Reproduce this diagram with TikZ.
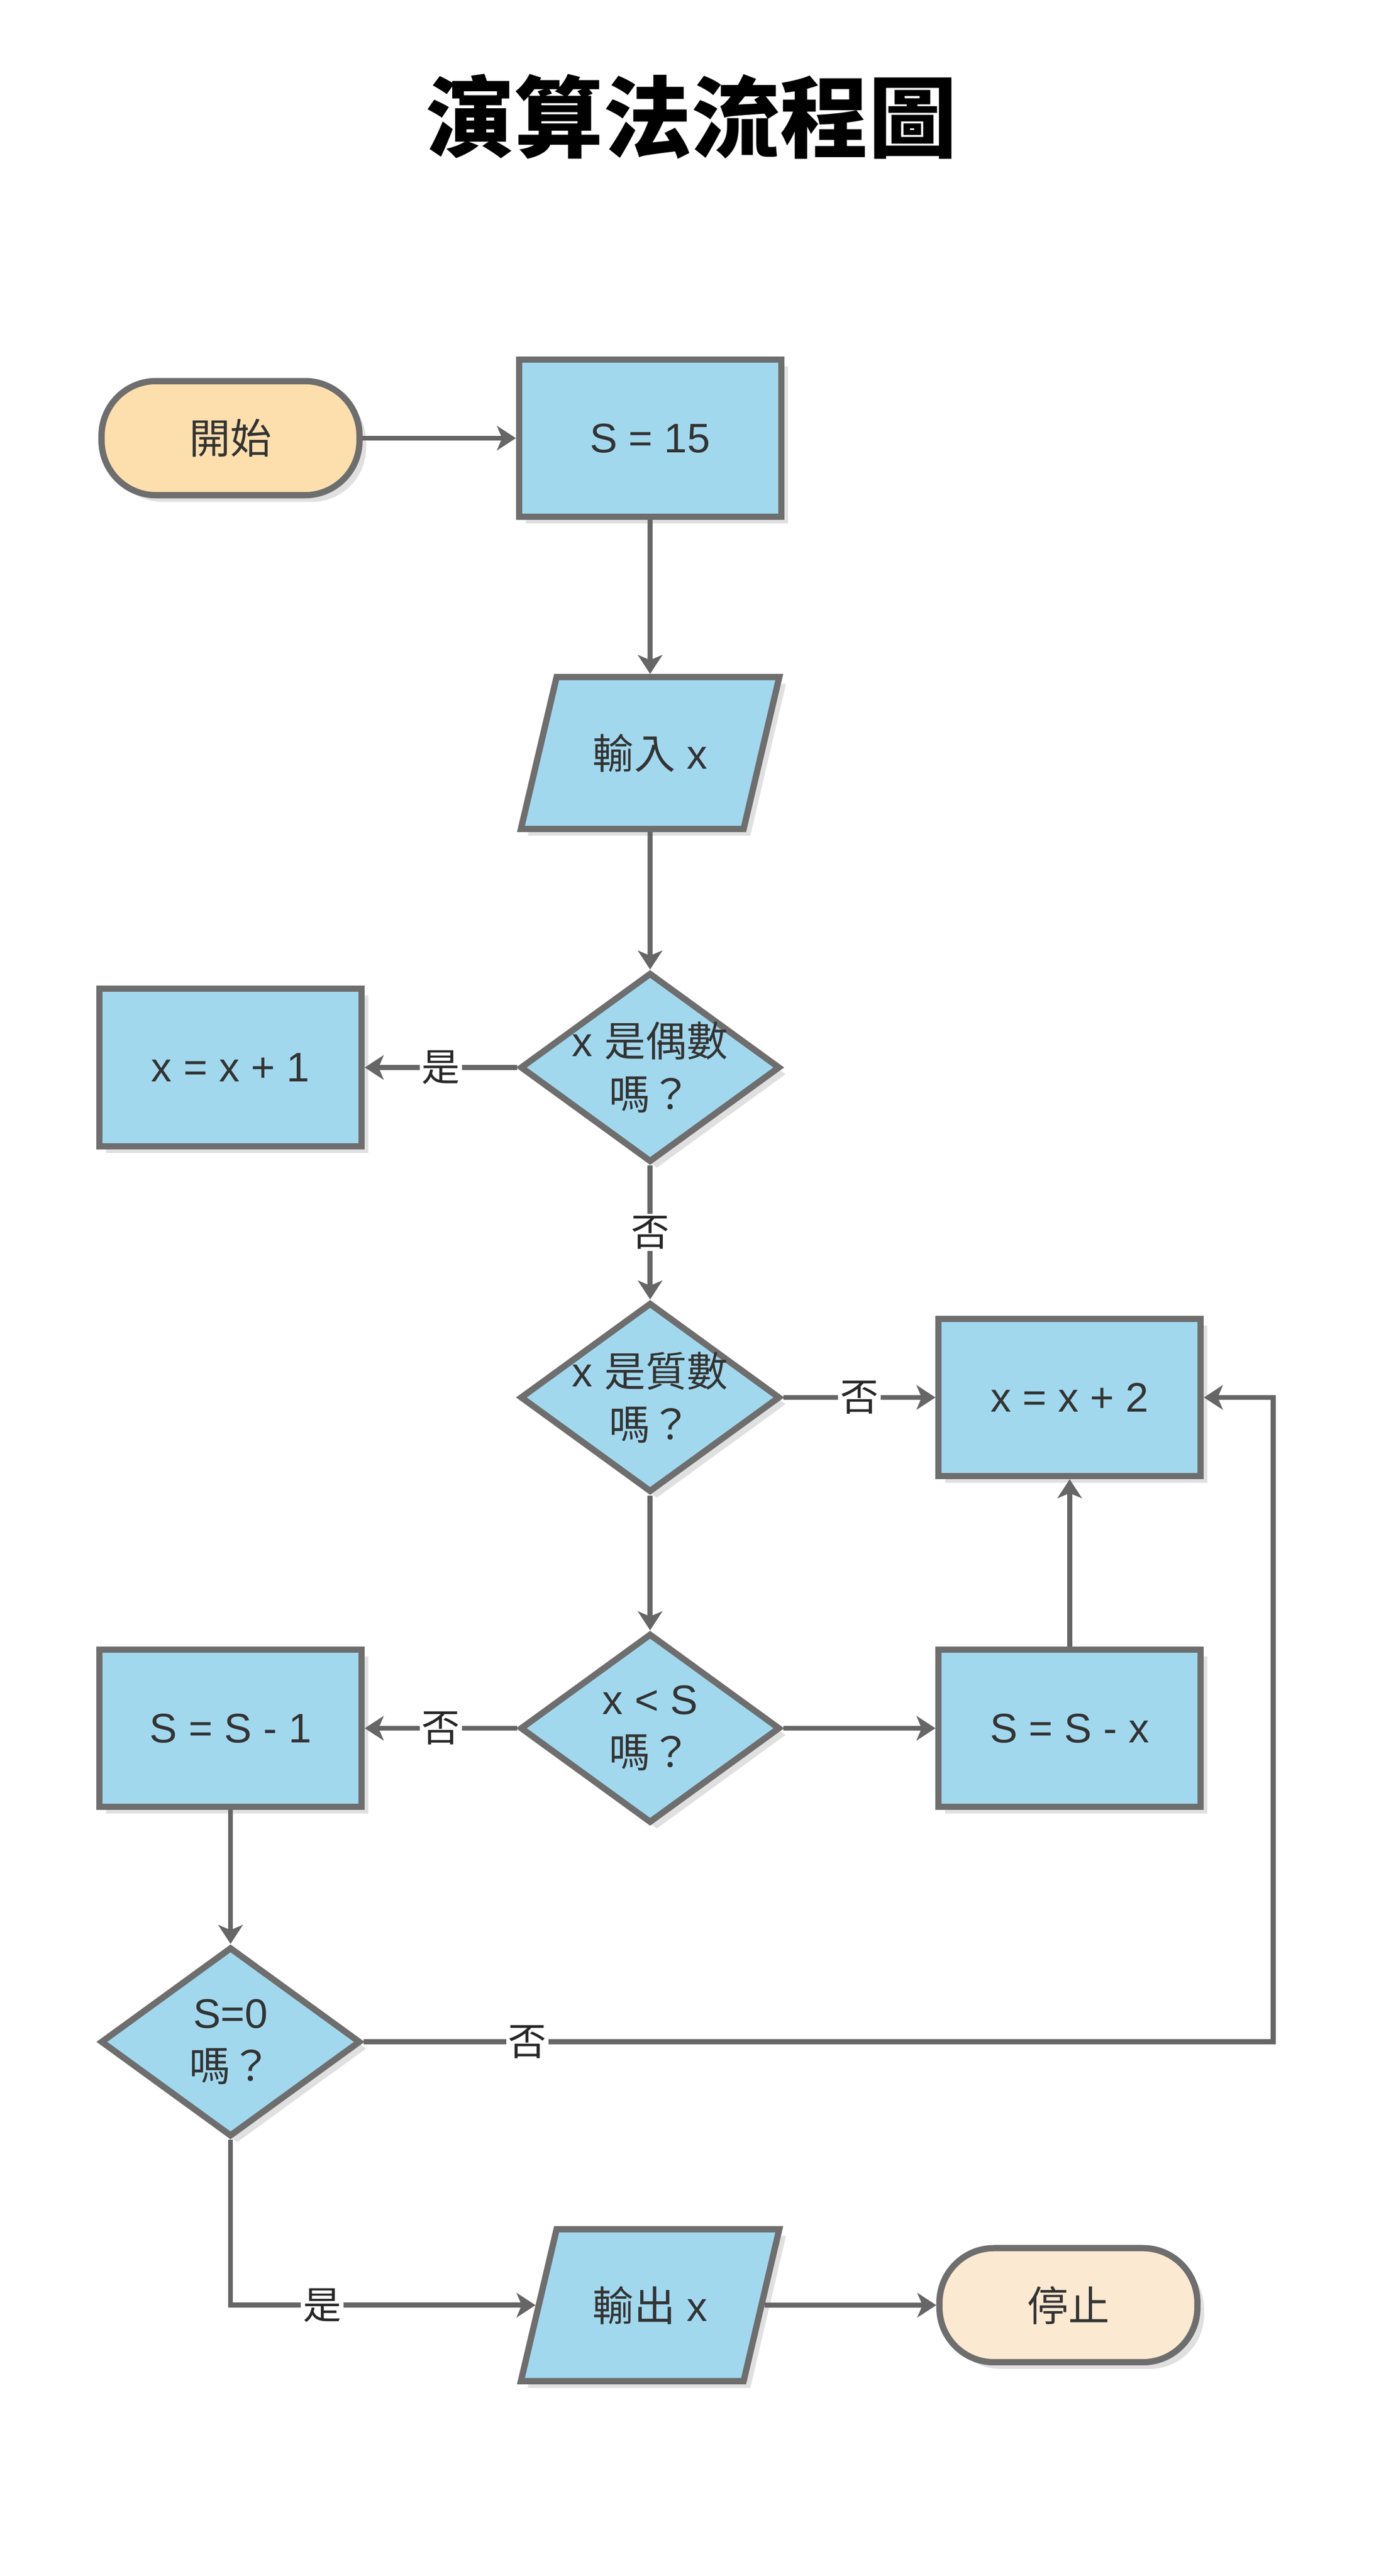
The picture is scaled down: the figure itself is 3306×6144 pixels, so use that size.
\documentclass[tikz,border=0pt]{standalone}
\usepackage{fontspec}
\setmainfont{Liberation Sans}
\newfontfamily\cjk{Noto Sans CJK TC}
\newcommand\zh[1]{{\cjk #1}}
\usetikzlibrary{shapes.geometric,arrows.meta,shadows}
\definecolor{boxblue}{HTML}{A2D8EE}
\definecolor{edgegray}{HTML}{6E6E6E}
\definecolor{linegray}{HTML}{666666}
\definecolor{startfill}{HTML}{FDDFAD}
\definecolor{stopfill}{HTML}{FCE9D2}
\definecolor{txt}{HTML}{333333}

\begin{document}
\begin{tikzpicture}
  [x=0.01cm,y=-0.01cm,
   every node/.style={text=txt,font=\fontsize{28}{36}\selectfont},
   boxshadow/.style={drop shadow={shadow xshift=0.16cm,shadow yshift=-0.16cm,fill=black!12,opacity=1}},
   process/.style={rectangle,draw=edgegray,fill=boxblue,line width=0.15cm,
     minimum width=6.25cm,minimum height=3.75cm,boxshadow},
   io/.style={trapezium,trapezium left angle=76,trapezium right angle=104,
     trapezium stretches body,inner ysep=1.25cm,draw=edgegray,fill=boxblue,line width=0.15cm,
     minimum width=6.16cm,minimum height=3.62cm,boxshadow},
   decision/.style={diamond,draw=edgegray,fill=boxblue,line width=0.15cm,
     minimum width=6.2cm,minimum height=4.52cm,inner sep=0pt,boxshadow},
   term/.style={rectangle,rounded corners=1.3cm,draw=edgegray,line width=0.15cm,
     minimum width=6.15cm,minimum height=2.72cm,boxshadow},
   flow/.style={draw=linegray,line width=0.12cm,
     -{Stealth[length=0.45cm,width=0.58cm,inset=0.12cm]}},
   lbl/.style={fill=white,inner sep=0.05cm,text=black!85,font=\cjk\fontsize{26}{26}\selectfont}]
  \useasboundingbox (0,0) rectangle (3306,6144);

  \node[text=black,font=\cjk\bfseries\fontsize{60}{60}\selectfont] (title) at (1650,278) {演算法流程圖};

  \node[term,fill=startfill] (start) at (550,1045) {\zh{開始}};
  \node[process] (s15) at (1551,1045) {S = 15};
  \node[io] (in) at (1551,1796) {\zh{輸入} x};
  \node[decision,label={[align=center]center:{x \zh{是偶數}\\\zh{嗎？}}}] (d1) at (1551,2546) {};
  \node[process] (x1) at (550,2546) {x = x + 1};
  \node[decision,label={[align=center]center:{x \zh{是質數}\\\zh{嗎？}}}] (d2) at (1551,3333) {};
  \node[process] (x2) at (2552,3333) {x = x + 2};
  \node[decision,label={[align=center]center:{x < S\\\zh{嗎？}}}] (d3) at (1551,4122) {};
  \node[process] (sm1) at (550,4122) {S = S - 1};
  \node[process] (smx) at (2552,4122) {S = S - x};
  \node[decision,label={[align=center]center:{S=0\\\zh{嗎？}}}] (d4) at (550,4870) {};
  \node[io] (out) at (1551,5498) {\zh{輸出} x};
  \node[term,fill=stopfill] (stop) at (2549,5498) {\zh{停止}};
  \coordinate (loop) at (3038,3333);

  \draw[flow] (start) -- (s15);
  \draw[flow] (s15) -- (in);
  \draw[flow] (in) -- (d1);
  \draw[flow] (d1) -- node[lbl]{是} (x1);
  \draw[flow] (d1) -- node[lbl]{否} (d2);
  \draw[flow] (d2) -- node[lbl]{否} (x2);
  \draw[flow] (d2) -- (d3);
  \draw[flow] (d3) -- node[lbl]{否} (sm1);
  \draw[flow] (d3) -- (smx);
  \draw[flow] (smx) -- (x2);
  \draw[flow] (sm1) -- (d4);
  \draw[flow] (d4.east) -- node[lbl,pos=0.18]{否} (d4.east -| loop) |- (x2.east);
  \draw[flow] (d4.south) |- node[lbl,pos=0.65]{是} (out.west);
  \draw[flow] (out) -- (stop);
\end{tikzpicture}
\end{document}
